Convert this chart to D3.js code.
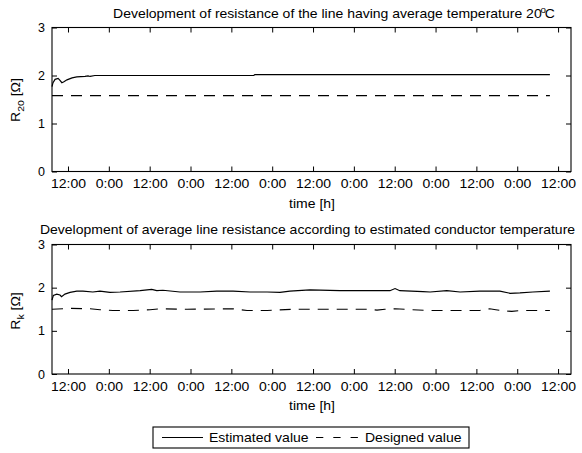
<!DOCTYPE html>
<html><head><meta charset="utf-8">
<script src="https://cdn.jsdelivr.net/npm/d3@7"></script>
<style>
body{margin:0;background:#fff;}
svg{display:block;font-family:"Liberation Sans",Arial,sans-serif;}
</style></head>
<body>
<svg id="c" width="582" height="453"></svg>
<script>
// ---- data ----
const xTickHours = [12,24,36,48,60,72,84,96,108,120,132,144,156];
const xTickLabels = ["12:00","0:00","12:00","0:00","12:00","0:00","12:00","0:00","12:00","0:00","12:00","0:00","12:00"];
const yTicks = [0,1,2,3];

// top panel: R20
const topEstHours = [7.3,7.6,8.2,9.1,9.65,10.2,10.8,11.7,13.2,14.6,17.0,17.9,18.5,19.9,66.6,66.9,153.6];
const topEstValues = [1.77,1.85,1.92,1.94,1.90,1.85,1.87,1.91,1.95,1.97,1.98,1.99,1.98,2.0,2.0,2.02,2.02];
const topDesHours = [7.3,24,48,72,96,120,144,153.6];
const topDesValues = [1.58,1.58,1.58,1.58,1.58,1.58,1.58,1.58];

// bottom panel: Rk
const botEstHours = [7.3,7.7,8.7,9.65,10.1,11.1,12.6,14.6,16.4,19.3,21.4,24.3,27.3,33.2,36.6,38.1,39.9,44.9,50.8,55.7,60.5,65.5,70.5,74.3,77.2,83.1,91.9,106.6,108.1,109.5,116.3,118.4,123.3,127.2,133.0,138.9,141.9,144.8,148.6,153.6];
const botEstValues = [1.71,1.82,1.85,1.83,1.79,1.85,1.89,1.92,1.92,1.90,1.92,1.89,1.90,1.93,1.96,1.93,1.94,1.90,1.90,1.92,1.92,1.90,1.90,1.89,1.92,1.95,1.93,1.93,1.98,1.93,1.91,1.90,1.93,1.90,1.92,1.92,1.87,1.88,1.90,1.92];
const botDesHours = [7.3,12.6,18.5,21.4,25.2,31.1,36.1,39.0,47.0,60.5,64.6,70.5,78.1,83.1,100.7,102.8,105.1,108.1,118.4,133.0,135.9,137.7,140.4,142.4,144.8,153.6];
const botDesValues = [1.50,1.52,1.51,1.49,1.47,1.47,1.49,1.51,1.50,1.51,1.47,1.47,1.50,1.50,1.50,1.48,1.50,1.51,1.47,1.47,1.51,1.49,1.46,1.45,1.47,1.47];

const titles = ["Development of resistance of the line having average temperature 20",
  "Development of average line resistance according to estimated conductor temperature"];
const xLabel = "time [h]";
const legendLabels = ["Estimated value","Designed value"];

// ---- layout ----
const svg = d3.select("#c");
const L = 52, R = 571;
const FS = 12.5, SX = 1.12;
const x = d3.scaleLinear().domain([7.3,159.8]).range([L,R]);
const panels = [
  {top:27.5, bottom:171.5, est:[topEstHours,topEstValues], des:[topDesHours,topDesValues], sub:"20", ylabY:100,
   title:titles[0], titleX:334, titleY:18, xlabY:208},
  {top:244.5, bottom:374, est:[botEstHours,botEstValues], des:[botDesHours,botDesValues], sub:"k", ylabY:311,
   title:titles[1], titleX:307.5, titleY:234, xlabY:410}
];

function stretchText(g, x0, y0, anchor){
  return g.append("g").attr("transform",`translate(${x0},${y0}) scale(${SX},1)`)
    .append("text").attr("text-anchor",anchor).attr("font-size",FS).attr("fill","#000");
}

panels.forEach((p,i)=>{
  const y = d3.scaleLinear().domain([0,3]).range([p.bottom,p.top]);
  const g = svg.append("g");
  const fmt = (d,j)=>xTickLabels[j];
  const ax = g.append("g").attr("transform",`translate(0,${p.bottom})`)
    .call(d3.axisBottom(x).tickValues(xTickHours).tickFormat(fmt).tickSize(-5).tickPadding(8));
  ax.selectAll("text").attr("font-size",FS).attr("font-family","Liberation Sans, Arial, sans-serif").attr("transform",`scale(${SX},1)`);
  g.append("g").attr("transform",`translate(0,${p.top})`)
    .call(d3.axisTop(x).tickValues(xTickHours).tickFormat("").tickSize(-5));
  const ay = g.append("g").attr("transform",`translate(${L},0)`)
    .call(d3.axisLeft(y).tickValues(yTicks).tickFormat(d3.format("d")).tickSize(-5).tickPadding(7));
  ay.selectAll("text").attr("font-size",FS).attr("font-family","Liberation Sans, Arial, sans-serif");
  g.append("g").attr("transform",`translate(${R},0)`)
    .call(d3.axisRight(y).tickValues(yTicks).tickFormat("").tickSize(-5));
  g.selectAll(".domain").remove();
  g.selectAll(".tick line").attr("stroke","#000").attr("stroke-width",1);
  g.append("rect").attr("x",L).attr("y",p.top).attr("width",R-L).attr("height",p.bottom-p.top)
    .attr("fill","none").attr("stroke","#000").attr("stroke-width",1.1);

  const line = d3.line().x(d=>x(d[0])).y(d=>y(d[1]));
  const est = p.est[0].map((h,k)=>[h,p.est[1][k]]);
  const des = p.des[0].map((h,k)=>[h,p.des[1][k]]);
  g.append("path").attr("d",line(des)).attr("fill","none").attr("stroke","#000").attr("stroke-width",1.1).attr("stroke-dasharray","11,8");
  g.append("path").attr("d",line(est)).attr("fill","none").attr("stroke","#000").attr("stroke-width",1.2);

  // title
  const t = stretchText(svg, p.titleX, p.titleY, "middle");
  t.append("tspan").text(p.title);
  if(i===0){
    t.append("tspan").attr("font-size",FS*0.7).attr("dy",-5).attr("dx",-1).text("o");
    t.append("tspan").attr("dy",5).attr("dx",-1).text("C");
  }
  // x label
  stretchText(svg, 312, p.xlabY, "middle").text(xLabel);
  // y label
  const yl = svg.append("g").attr("transform",`translate(20,${p.ylabY}) rotate(-90) scale(${SX},1)`)
    .append("text").attr("text-anchor","middle").attr("font-size",FS);
  yl.append("tspan").text("R");
  yl.append("tspan").attr("font-size",FS*0.75).attr("dy",4).text(p.sub);
  yl.append("tspan").attr("dy",-4).text(" [Ω]");
});

// legend
const lg = svg.append("g");
lg.append("rect").attr("x",153).attr("y",427).attr("width",316).attr("height",21)
  .attr("fill","#fff").attr("stroke","#000").attr("stroke-width",1.1);
const ly = 437.5;
lg.append("line").attr("x1",162).attr("x2",203).attr("y1",ly).attr("y2",ly).attr("stroke","#000").attr("stroke-width",1.2);
stretchText(lg, 209, ly+4.5, "start").text(legendLabels[0]);
lg.append("line").attr("x1",316).attr("x2",358).attr("y1",ly).attr("y2",ly).attr("stroke","#000").attr("stroke-width",1.1).attr("stroke-dasharray","7.3,10");
stretchText(lg, 365, ly+4.5, "start").text(legendLabels[1]);
</script>
</body></html>
